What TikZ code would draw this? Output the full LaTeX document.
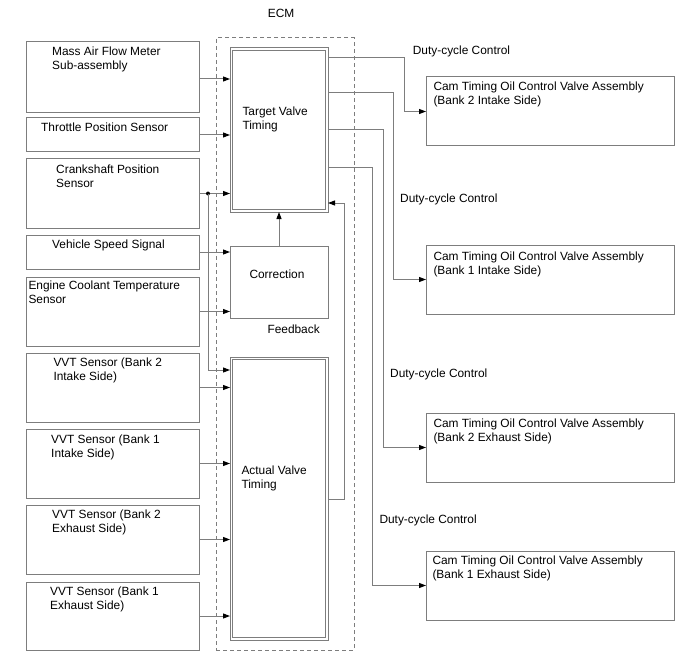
\documentclass[tikz,border=0pt]{standalone}
\usepackage{fontspec}
\setmainfont{Liberation Sans}
\usetikzlibrary{arrows.meta}
\definecolor{lc}{RGB}{125,125,125}
\newcommand{\lbfont}{\fontsize{11.9}{14}\selectfont}
\begin{document}
\begin{tikzpicture}[x=1pt,y=-1pt,
  box/.style={draw=lc,line width=1pt,rectangle,inner sep=0pt,outer sep=0pt,anchor=north west},
  lbl/.style={anchor=north west,inner sep=0pt,align=left,font=\lbfont},
  conn/.style={draw=lc,line width=1pt,-{Triangle[length=7pt,width=5pt,color=black]}},
  pl/.style={draw=lc,line width=1pt}]
\useasboundingbox (0,0) rectangle (688,658);
% ECM dashed frame
\node[box,dashed,dash pattern=on 4pt off 3pt,minimum width=138pt,minimum height=612pt] (ecm) at (216,38) {};
\node[lbl] (ecmt) at (267.7,9) {ECM};
% left sensor boxes
\node[box,minimum width=173pt,minimum height=71pt] (maf) at (26,42) {};
\node[box,minimum width=173pt,minimum height=34pt] (tps) at (26,118) {};
\node[box,minimum width=173pt,minimum height=69pt] (ckp) at (26,159) {};
\node[box,minimum width=173pt,minimum height=34pt] (vss) at (26,235) {};
\node[box,minimum width=173pt,minimum height=69pt] (ect) at (26,277) {};
\node[box,minimum width=173pt,minimum height=69pt] (v2i) at (26,353) {};
\node[box,minimum width=173pt,minimum height=69pt] (v1i) at (26,429) {};
\node[box,minimum width=173pt,minimum height=69pt] (v2e) at (26,505) {};
\node[box,minimum width=173pt,minimum height=68pt] (v1e) at (26,582) {};
\node[lbl] (maft) at (52,46.7) {Mass Air Flow Meter\\Sub-assembly};
\node[lbl] (tpst) at (41,122.7) {Throttle Position Sensor};
\node[lbl] (ckpt) at (56,164.3) {Crankshaft Position\\Sensor};
\node[lbl] (vsst) at (52,240) {Vehicle Speed Signal};
\node[lbl] (ectt) at (28.3,280.7) {Engine Coolant Temperature\\Sensor};
\node[lbl] (v2it) at (53.3,357.7) {VVT Sensor (Bank 2\\Intake Side)};
\node[lbl] (v1it) at (51,435) {VVT Sensor (Bank 1\\Intake Side)};
\node[lbl] (v2et) at (52,510) {VVT Sensor (Bank 2\\Exhaust Side)};
\node[lbl] (v1et) at (50,586.7) {VVT Sensor (Bank 1\\Exhaust Side)};
% ECM inner blocks
\node[box,minimum width=98pt,minimum height=164pt] (tvt) at (230,48) {};
\draw[pl] ([xshift=2.5pt,yshift=-2.5pt]tvt.north west) rectangle ([xshift=-2.5pt,yshift=2.5pt]tvt.south east);
\node[box,minimum width=98pt,minimum height=72pt] (corr) at (230,246) {};
\node[box,minimum width=98pt,minimum height=283pt] (avt) at (230,357) {};
\draw[pl] ([xshift=2.5pt,yshift=-2.5pt]avt.north west) rectangle ([xshift=-2.5pt,yshift=2.5pt]avt.south east);
\node[lbl] (tvtt) at (242.3,106.7) {Target Valve\\Timing};
\node[lbl] (corrt) at (249.3,269.3) {Correction};
\node[lbl] (fbt) at (267.3,324.3) {Feedback};
\node[lbl] (avtt) at (241.3,465.7) {Actual Valve\\Timing};
% right actuator boxes
\node[box,minimum width=248pt,minimum height=69pt] (c2i) at (426,77) {};
\node[box,minimum width=248pt,minimum height=69pt] (c1i) at (426,245) {};
\node[box,minimum width=248pt,minimum height=69pt] (c2e) at (426,413) {};
\node[box,minimum width=248pt,minimum height=69pt] (c1e) at (426,551) {};
\node[lbl] (c2it) at (433.3,81.7) {Cam Timing Oil Control Valve Assembly\\(Bank 2 Intake Side)};
\node[lbl] (c1it) at (433.3,251.7) {Cam Timing Oil Control Valve Assembly\\(Bank 1 Intake Side)};
\node[lbl] (c2et) at (433.3,418.3) {Cam Timing Oil Control Valve Assembly\\(Bank 2 Exhaust Side)};
\node[lbl] (c1et) at (432.3,556) {Cam Timing Oil Control Valve Assembly\\(Bank 1 Exhaust Side)};
\node[lbl] (d1) at (412.7,45.7) {Duty-cycle Control};
\node[lbl] (d2) at (400,194) {Duty-cycle Control};
\node[lbl] (d3) at (390,369) {Duty-cycle Control};
\node[lbl] (d4) at (379.3,514.3) {Duty-cycle Control};
% input connectors
\draw[conn] ([yshift=-1.5pt]maf.east) -- ([yshift=-1.5pt]maf.east -| tvt.west);
\draw[conn] (tps.east) -- (tps.east -| tvt.west);
\draw[conn] (ckp.east) -- (ckp.east -| tvt.west);
\coordinate (j) at (208,193.5);
\fill[black] (j) circle (2pt);
\draw[conn] (j) |- (avt.west |- 0,370);
\draw[conn] (vss.east) -- (vss.east -| corr.west);
\draw[conn] (ect.east) -- (ect.east -| corr.west);
\draw[conn] (v2i.east) -- (v2i.east -| avt.west);
\draw[conn] (v1i.east) -- (v1i.east -| avt.west);
\draw[conn] (v2e.east) -- (v2e.east -| avt.west);
\draw[conn] (v1e.east) -- (v1e.east -| avt.west);
% internal
\draw[conn] (corr.north) -- (tvt.south);
\draw[conn] (avt.east |- 0,499) -- (344,499) -- (344,203) -- (tvt.east |- 0,203);
% outputs
\draw[conn] (tvt.east |- 0,58) -| ([xshift=-22pt]c2i.west) -- (c2i.west);
\draw[conn] (tvt.east |- 0,93) -| ([xshift=-33pt]c1i.west) -- (c1i.west);
\draw[conn] (tvt.east |- 0,130) -| ([xshift=-43pt]c2e.west) -- (c2e.west);
\draw[conn] (tvt.east |- 0,167) -| ([xshift=-54pt]c1e.west) -- (c1e.west);
\end{tikzpicture}
\end{document}
